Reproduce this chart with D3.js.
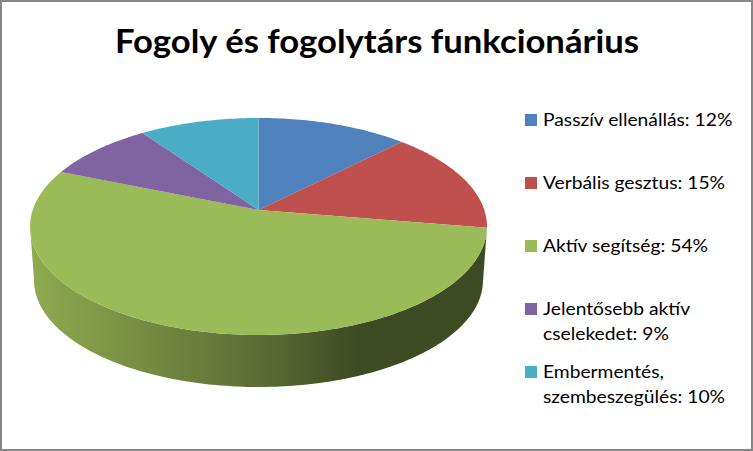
<!DOCTYPE html>
<html>
<head>
<meta charset="utf-8">
<script src="https://cdn.jsdelivr.net/npm/d3@7"></script>
<style>
  html, body { margin: 0; padding: 0; background: #fff; }
  svg { display: block; }
  text { font-family: Lato, "Open Sans", sans-serif; fill: #000; }
</style>
</head>
<body>
<div id="chart"></div>
<script>
const chartTitle = "Fogoly és fogolytárs funkcionárius";
const categories = ["Passzív ellenállás", "Verbális gesztus", "Aktív segítség", "Jelentősebb aktív cselekedet", "Embermentés, szembeszegülés"];
const values = [12.4, 15.2, 53.6, 9.0, 9.8];
const colors = ["#4f81bd", "#c0504d", "#9bbb59", "#8064a2", "#4bacc6"];
const legendLines = [
  ["Passzív ellenállás: 12%"],
  ["Verbális gesztus: 15%"],
  ["Aktív segítség: 54%"],
  ["Jelentősebb aktív", "cselekedet: 9%"],
  ["Embermentés,", "szembeszegülés: 10%"]
];

const width = 753;
const height = 451;

const svg = d3.select("#chart")
  .append("svg")
  .attr("width", width)
  .attr("height", height);

// frame
svg.append("rect")
  .attr("x", 1)
  .attr("y", 1)
  .attr("width", width - 2)
  .attr("height", height - 2)
  .attr("fill", "#fff")
  .attr("stroke", "#868686")
  .attr("stroke-width", 2);

// Lato has taller caps than the original face: smaller size, stretched to the same width
svg.append("text")
  .attr("x", 115)
  .attr("y", 53)
  .attr("font-size", 33)
  .attr("font-weight", 700)
  .attr("textLength", 524)
  .attr("lengthAdjust", "spacingAndGlyphs")
  .text(chartTitle);

// pie seen in perspective: the unit circle goes through a projective map
const cx = 258.5, cy = 210;
const rx = 225.8, ry = 106, persp = 0.152;
const depth = 54.2, shrink = 0.9825;

function project(angle, lower) {
  const u = Math.sin(angle);
  const v = -Math.cos(angle);
  const k = 1 / (1 - persp * v);
  const s = lower ? shrink : 1;
  return [cx + s * rx * u * k, cy + (lower ? depth : 0) + s * ry * v * k];
}

const pie = d3.pie().sort(null).value(d => d);
const slices = pie(values);
const line = d3.line();
const step = Math.PI / 180;

function rim(a0, a1, lower) {
  const angles = d3.range(a0, a1, step).concat([a1]);
  return angles.map(a => project(a, lower));
}

// side wall, only the part that faces the viewer
const wallFrom = Math.acos(-persp);
const wallTo = 2 * Math.PI - wallFrom;

const defs = svg.append("defs");
const grad = defs.append("linearGradient")
  .attr("id", "wall")
  .attr("gradientUnits", "userSpaceOnUse")
  .attr("x1", cx - rx)
  .attr("x2", cx + rx)
  .attr("y1", 0)
  .attr("y2", 0);
grad.append("stop").attr("offset", 0).attr("stop-color", "#8faa50");
grad.append("stop").attr("offset", 0.5).attr("stop-color", "#5c6d35");
grad.append("stop").attr("offset", 0.72).attr("stop-color", "#3e4a22");
grad.append("stop").attr("offset", 1).attr("stop-color", "#3e4a22");

slices.forEach(d => {
  const a0 = Math.max(d.startAngle, wallFrom);
  const a1 = Math.min(d.endAngle, wallTo);
  if (a1 <= a0) return;
  const pts = rim(a0, a1, false).concat(rim(a0, a1, true).reverse());
  svg.append("path")
    .attr("d", line(pts) + "Z")
    .attr("fill", "url(#wall)");
});

// top face
svg.selectAll("path.slice")
  .data(slices)
  .enter()
  .append("path")
  .attr("class", "slice")
  .attr("d", d => line([[cx, cy]].concat(rim(d.startAngle, d.endAngle, false))) + "Z")
  .attr("fill", (d, i) => colors[i]);

// legend
const legendY = d3.scalePoint()
  .domain(categories)
  .range([120, 372]);

const legend = svg.selectAll("g.legend")
  .data(categories)
  .enter()
  .append("g")
  .attr("class", "legend")
  .attr("transform", d => `translate(525,${legendY(d)})`);

legend.append("rect")
  .attr("x", 0)
  .attr("y", -6)
  .attr("width", 12)
  .attr("height", 12)
  .attr("fill", (d, i) => colors[i]);

legend.each(function (d, i) {
  d3.select(this).selectAll("text")
    .data(legendLines[i])
    .enter()
    .append("text")
    .attr("transform", (t, j) => `translate(18,${6 + j * 25}) scale(1.07,1)`)
    .attr("font-size", 18)
    .text(t => t);
});
</script>
</body>
</html>
